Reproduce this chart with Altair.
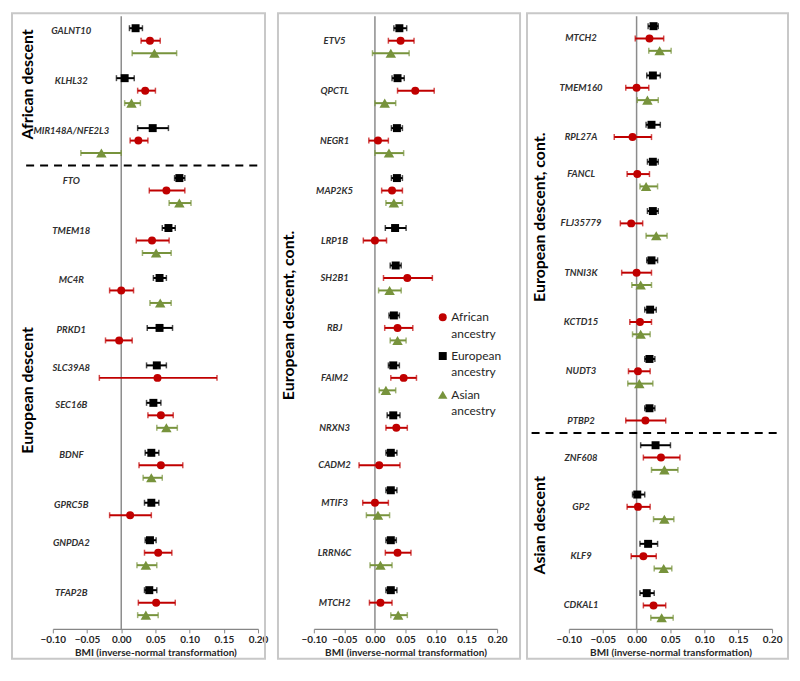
import altair as alt
import pandas as pd

FONT = "Lato"
ANC = ["African ancestry", "European ancestry", "Asian ancestry"]
COLORS = ["#C00000", "#000000", "#77933C"]
SHAPES = ["circle", "square", "triangle-up"]

# ---------------- Panel 1 ----------------
p1_genes = ["GALNT10", "KLHL32", "MIR148A/NFE2L3", "FTO", "TMEM18", "MC4R", "PRKD1",
            "SLC39A8", "SEC16B", "BDNF", "GPRC5B", "GNPDA2", "TFAP2B"]
p1_groups = ["African descent"] * 3 + ["European descent"] * 10
p1_eur = [0.021, 0.005, 0.046, 0.085, 0.069, 0.056, 0.056, 0.052, 0.047, 0.044, 0.044, 0.042, 0.041]
p1_eur_lo = [0.012, -0.007, 0.024, 0.078, 0.060, 0.047, 0.038, 0.037, 0.037, 0.035, 0.034, 0.035, 0.034]
p1_eur_hi = [0.031, 0.019, 0.069, 0.093, 0.079, 0.066, 0.075, 0.066, 0.058, 0.055, 0.055, 0.051, 0.052]
p1_afr = [0.042, 0.035, 0.025, 0.066, 0.045, 0.000, -0.003, 0.053, 0.058, 0.058, 0.013, 0.054, 0.051]
p1_afr_lo = [0.029, 0.024, 0.013, 0.041, 0.022, -0.017, -0.023, -0.032, 0.039, 0.026, -0.017, 0.034, 0.025]
p1_afr_hi = [0.057, 0.050, 0.039, 0.093, 0.070, 0.018, 0.016, 0.140, 0.076, 0.090, 0.044, 0.074, 0.079]
p1_asn = [0.0485, 0.015, -0.029, 0.085, 0.051, 0.057, None, None, 0.066, 0.044, None, 0.036, 0.036]
p1_asn_lo = [0.016, 0.005, -0.059, 0.070, 0.031, 0.042, None, None, 0.052, 0.032, None, 0.023, 0.024]
p1_asn_hi = [0.081, 0.028, 0.000, 0.102, 0.073, 0.073, None, None, 0.082, 0.060, None, 0.052, 0.054]

# ---------------- Panel 2 ----------------
p2_genes = ["ETV5", "QPCTL", "NEGR1", "MAP2K5", "LRP1B", "SH2B1", "RBJ", "FAIM2", "NRXN3",
            "CADM2", "MTIF3", "LRRN6C", "MTCH2"]
p2_groups = ["European descent, cont."] * 13
p2_eur = [0.040, 0.037, 0.036, 0.036, 0.033, 0.034, 0.031, 0.030, 0.030, 0.026, 0.026, 0.026, 0.026]
p2_eur_lo = [0.031, 0.028, 0.027, 0.027, 0.017, 0.025, 0.023, 0.022, 0.020, 0.018, 0.018, 0.018, 0.018]
p2_eur_hi = [0.052, 0.048, 0.045, 0.045, 0.051, 0.043, 0.040, 0.040, 0.041, 0.036, 0.036, 0.035, 0.036]
p2_afr = [0.042, 0.066, 0.005, 0.028, 0.000, 0.053, 0.037, 0.047, 0.035, 0.007, 0.000, 0.037, 0.009]
p2_afr_lo = [0.022, 0.037, -0.010, 0.011, -0.019, 0.014, 0.016, 0.026, 0.018, -0.026, -0.020, 0.017, -0.009]
p2_afr_hi = [0.064, 0.097, 0.022, 0.045, 0.019, 0.094, 0.062, 0.068, 0.053, 0.041, 0.022, 0.059, 0.028]
p2_asn = [0.026, 0.016, 0.023, 0.031, None, 0.024, 0.037, 0.018, None, None, 0.005, 0.009, 0.038]
p2_asn_lo = [-0.004, 0.000, 0.000, 0.018, None, 0.006, 0.025, 0.007, None, None, -0.014, -0.008, 0.026]
p2_asn_hi = [0.056, 0.034, 0.047, 0.045, None, 0.043, 0.051, 0.034, None, None, 0.024, 0.028, 0.053]

# ---------------- Panel 3 ----------------
p3_genes = ["MTCH2", "TMEM160", "RPL27A", "FANCL", "FLJ35779", "TNNI3K", "KCTD15", "NUDT3",
            "PTBP2", "ZNF608", "GP2", "KLF9", "CDKAL1"]
p3_groups = ["European descent, cont."] * 9 + ["Asian descent"] * 4
p3_eur = [0.025, 0.024, 0.022, 0.024, 0.024, 0.022, 0.020, 0.019, 0.019, 0.028, 0.001, 0.017, 0.015]
p3_eur_lo = [0.017, 0.015, 0.014, 0.016, 0.016, 0.015, 0.012, 0.012, 0.012, 0.006, -0.006, 0.005, 0.005]
p3_eur_hi = [0.032, 0.035, 0.035, 0.032, 0.032, 0.031, 0.029, 0.027, 0.027, 0.050, 0.012, 0.031, 0.026]
p3_afr = [0.019, 0.000, -0.006, 0.001, -0.008, 0.000, 0.005, 0.002, 0.013, 0.036, 0.002, 0.010, 0.025]
p3_afr_lo = [-0.002, -0.016, -0.033, -0.014, -0.024, -0.022, -0.010, -0.012, -0.016, 0.010, -0.014, -0.008, 0.010]
p3_afr_hi = [0.040, 0.018, 0.022, 0.019, 0.009, 0.022, 0.022, 0.020, 0.043, 0.064, 0.020, 0.029, 0.043]
p3_asn = [0.034, 0.016, None, 0.014, 0.029, 0.006, 0.006, 0.004, None, 0.041, 0.041, 0.040, 0.037]
p3_asn_lo = [0.018, 0.001, None, 0.005, 0.014, -0.007, -0.006, -0.013, None, 0.022, 0.025, 0.026, 0.021]
p3_asn_hi = [0.051, 0.032, None, 0.031, 0.045, 0.022, 0.020, 0.024, None, 0.061, 0.055, 0.052, 0.054]

TICKS = [-0.10, -0.05, 0.0, 0.05, 0.10, 0.15, 0.20]
X_TITLE = "BMI (inverse-normal transformation)"
HEIGHT = 618
FRAME_BOTTOM = 648


def panel(genes, groups, eur, eur_lo, eur_hi, afr, afr_lo, afr_hi, asn, asn_lo, asn_hi,
          width, ydom, label_x, label_dy, title_x, dash_x, frame, bound_right=None, legend_at=None):
    series = [("European ancestry", eur, eur_lo, eur_hi),
              ("African ancestry", afr, afr_lo, afr_hi),
              ("Asian ancestry", asn, asn_lo, asn_hi)]
    rows, labels, seps = [], [], []
    spans = {}
    s = 0
    prev = None
    for i, g in enumerate(genes):
        if prev is not None and groups[i] != prev:
            seps.append({"slot": s})
        start = s
        s += 1
        labels.append({"gene": g, "slot": s + label_dy})
        for name, v, lo, hi in series:
            if v[i] is None:
                continue
            rows.append({"gene": g, "anc": name, "slot": s, "v": v[i], "lo": lo[i], "hi": hi[i]})
            s += 1
        if groups[i] not in spans:
            spans[groups[i]] = [start, s - 1]
        spans[groups[i]][1] = s - 1
        prev = groups[i]

    df = pd.DataFrame(rows)
    lab_df = pd.DataFrame(labels)
    title_df = pd.DataFrame([{"title": k, "slot": (a + b) / 2} for k, (a, b) in spans.items()])
    dummy = pd.DataFrame({"k": [0]})

    xs = alt.Scale(domain=[-0.10, 0.20], nice=False, zero=False)
    ys = alt.Scale(domain=ydom, reverse=True, nice=False, zero=False)
    xaxis = alt.Axis(values=TICKS, format=".2f", title=X_TITLE, grid=False,
                     labelFont=FONT, labelFontSize=10, labelFontWeight="bold", labelColor="#262626",
                     labelOverlap=False, labelFlush=False,
                     titleFont=FONT, titleFontSize=10, titleFontWeight="bold", titleColor="#262626",
                     domainColor="#868686", domainWidth=1.2, tickColor="#868686", tickSize=4,
                     labelPadding=2, titlePadding=3)
    X = lambda f: alt.X(f, scale=xs, axis=xaxis)
    Y = lambda f: alt.Y(f, scale=ys, axis=None)
    cscale = alt.Scale(domain=ANC, range=COLORS)
    sscale = alt.Scale(domain=ANC, range=SHAPES)
    C = alt.Color("anc:N", scale=cscale, legend=None)
    S = alt.Shape("anc:N", scale=sscale, legend=None)

    layers = []
    layers.append(alt.Chart(dummy).mark_rect(fillOpacity=0, stroke="#C8C8C8", strokeWidth=2).encode(
        x=alt.value(frame[0]), x2=alt.value(frame[1]), y=alt.value(0), y2=alt.value(FRAME_BOTTOM)))
    if bound_right is not None:
        layers.append(alt.Chart(dummy).mark_rect(opacity=0).encode(
            x=alt.value(frame[0]), x2=alt.value(bound_right), y=alt.value(0), y2=alt.value(2)))
    layers.append(alt.Chart(dummy).transform_calculate(z="0").mark_rule(
        color="#8C8C8C", strokeWidth=1.5).encode(
        x=X("z:Q"), y=alt.value(3), y2=alt.value(HEIGHT)))
    if seps:
        sep_df = pd.DataFrame(seps)
        sep_df["x0"] = dash_x[0]
        sep_df["x1"] = dash_x[1]
        layers.append(alt.Chart(sep_df).mark_rule(
            color="#000000", strokeWidth=2, strokeDash=[8, 6]).encode(
            x=X("x0:Q"), x2="x1:Q", y=Y("slot:Q")))
    layers.append(alt.Chart(df).mark_rule(strokeWidth=2).encode(
        x=X("lo:Q"), x2="hi:Q", y=Y("slot:Q"), color=C))
    for f in ["lo", "hi"]:
        layers.append(alt.Chart(df).mark_tick(orient="vertical", size=6, thickness=1.5).encode(
            x=X(f + ":Q"), y=Y("slot:Q"), color=C))
    for filt, sz in [("datum.anc != 'Asian ancestry'", 64), ("datum.anc == 'Asian ancestry'", 110)]:
        layers.append(alt.Chart(df).transform_filter(filt).mark_point(
            filled=True, opacity=1, size=sz).encode(
            x=X("v:Q"), y=Y("slot:Q"), color=C, shape=S))
    lab_df["lx"] = label_x
    layers.append(alt.Chart(lab_df).mark_text(
        font=FONT, fontSize=9.5, fontWeight="bold", fontStyle="italic", color="#303030",
        align="center", baseline="middle").encode(
        x=X("lx:Q"), y=Y("slot:Q"), text="gene:N"))
    title_df["tx"] = title_x
    layers.append(alt.Chart(title_df).mark_text(
        font=FONT, fontSize=16, fontWeight="bold", color="#000000", angle=270,
        align="center", baseline="middle").encode(
        x=X("tx:Q"), y=Y("slot:Q"), text="title:N"))
    if legend_at is not None:
        lx, ly, step, tx = legend_at
        leg_pts = pd.DataFrame({"anc": ANC, "lx": [lx] * 3, "slot": [ly + k * step for k in range(3)]})
        leg_txt = []
        for k, a in enumerate(ANC):
            for j, word in enumerate(a.split(" ")):
                leg_txt.append({"t": word, "lx": tx, "slot": ly + k * step + j * 1.3})
        leg_txt = pd.DataFrame(leg_txt)
        for filt, sz in [("datum.anc != 'Asian ancestry'", 64), ("datum.anc == 'Asian ancestry'", 90)]:
            layers.append(alt.Chart(leg_pts).transform_filter(filt).mark_point(
                filled=True, opacity=1, size=sz).encode(
                x=X("lx:Q"), y=Y("slot:Q"), color=C, shape=S))
        layers.append(alt.Chart(leg_txt).mark_text(
            font=FONT, fontSize=12, color="#262626", align="left", baseline="middle").encode(
            x=X("lx:Q"), y=Y("slot:Q"), text="t:N"))
    return alt.layer(*layers).properties(width=width, height=HEIGHT)


c1 = panel(p1_genes, p1_groups, p1_eur, p1_eur_lo, p1_eur_hi, p1_afr, p1_afr_lo, p1_afr_hi,
           p1_asn, p1_asn_lo, p1_asn_hi, width=206, ydom=[-0.2, 49.1], label_x=-0.073,
           label_dy=0.2, title_x=-0.136, dash_x=[-0.139, 0.201], frame=[-41, 213], bound_right=220)
c2 = panel(p2_genes, p2_groups, p2_eur, p2_eur_lo, p2_eur_hi, p2_afr, p2_afr_lo, p2_afr_hi,
           p2_asn, p2_asn_lo, p2_asn_hi, width=184, ydom=[-0.2, 49.1], label_x=-0.066,
           label_dy=1.0, title_x=-0.141, dash_x=[-0.14, 0.2], frame=[-36, 207],
           legend_at=(0.111, 24.15, 3.1, 0.125))
c3 = panel(p3_genes, p3_groups, p3_eur, p3_eur_lo, p3_eur_hi, p3_afr, p3_afr_lo, p3_afr_hi,
           p3_asn, p3_asn_lo, p3_asn_hi, width=204, ydom=[-0.05, 49.9], label_x=-0.082,
           label_dy=1.0, title_x=-0.143, dash_x=[-0.155, 0.207], frame=[-42, 220])

chart = alt.hconcat(c1, c2, c3, spacing=5).configure_view(
    stroke=None).properties(padding=3, background="white")

chart.save("out.html", embed_options={"renderer": "svg", "actions": False})
